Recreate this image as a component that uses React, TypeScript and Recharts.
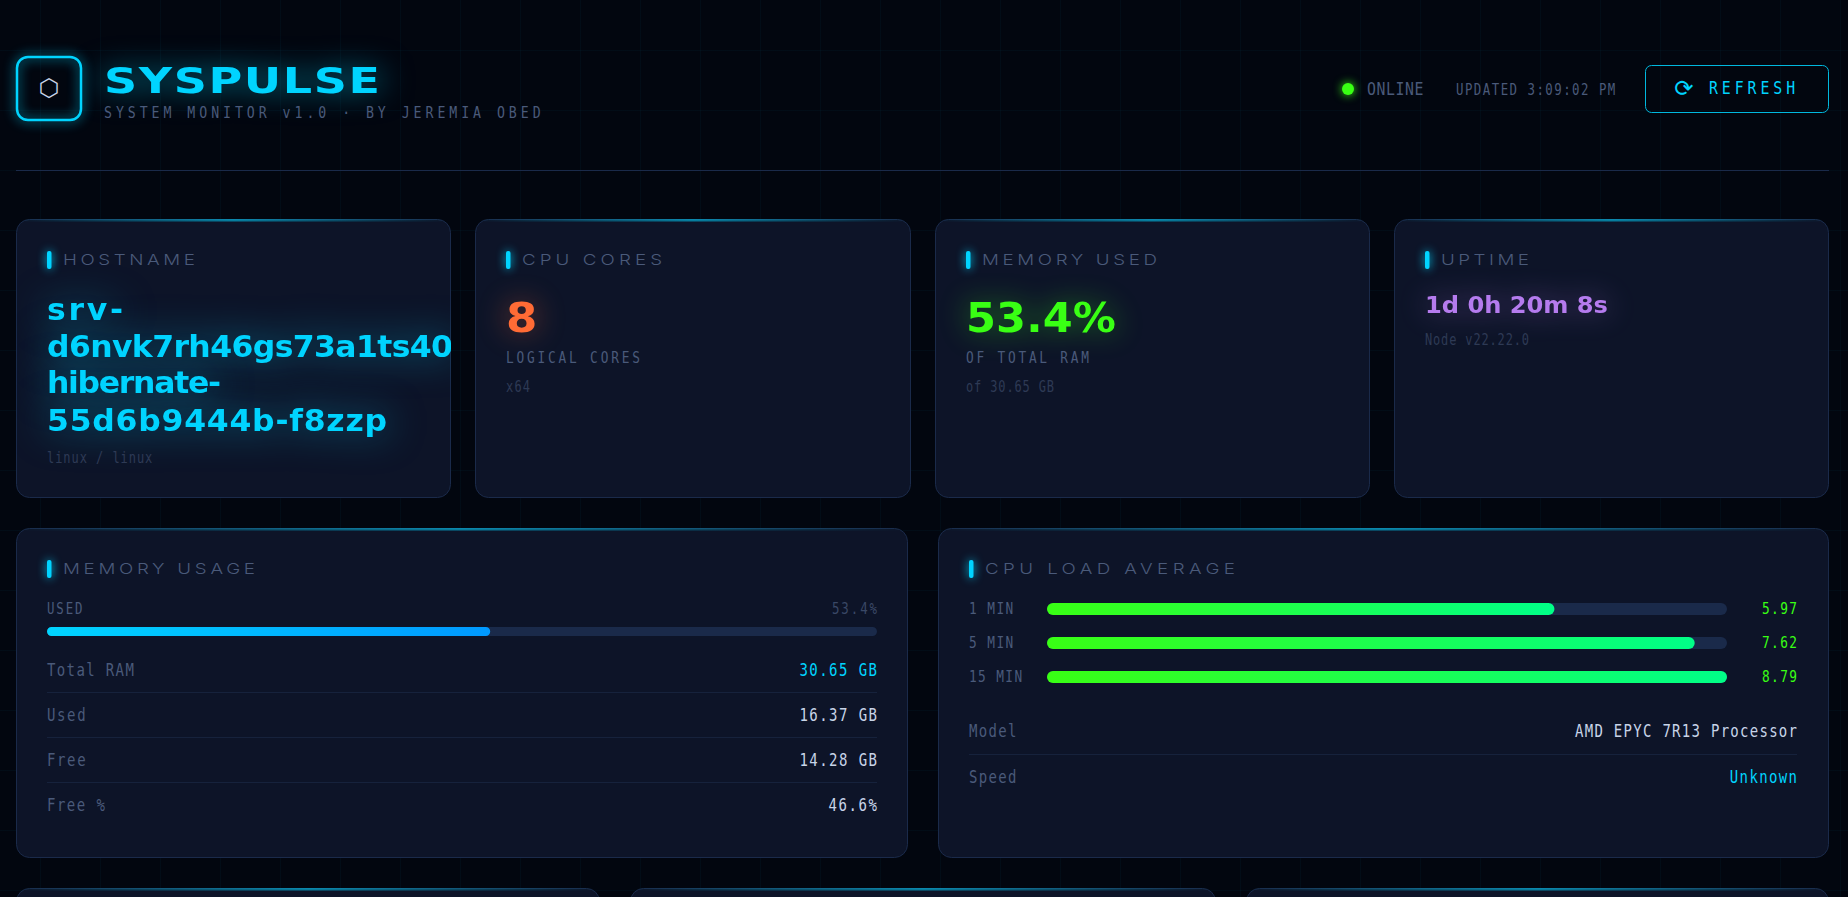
import React from "react";
import { BarChart, Bar, XAxis, YAxis, LabelList } from "recharts";

const hostLines = ["srv-", "d6nvk7rh46gs73a1ts40", "hibernate-", "55d6b9444b-f8zzp"];
const memoryCategory = ["USED"];
const memoryUsedPct = [53.4];
const memoryRowLabels = ["Total RAM", "Used", "Free", "Free %"];
const memoryRowValues = ["30.65 GB", "16.37 GB", "14.28 GB", "46.6%"];
const loadLabels = ["1 MIN", "5 MIN", "15 MIN"];
const loadValues = [5.97, 7.62, 8.79];
const cpuCores = 8;

const memoryData = memoryCategory.map((name, i) => ({ name, used: memoryUsedPct[i] }));
const loadData = loadLabels.map((name, i) => ({
  name,
  value: loadValues[i],
  shown: Math.min(loadValues[i], cpuCores),
}));

const MONO = "'DejaVu Sans Mono', monospace";
const WIDE = "'DejaVu Sans', sans-serif";
const THIN = "Inter, sans-serif";
const CYAN = "#00d4ff";
const GREEN = "#39ff14";
const MUTED = "#4a5a7a";
const DIM = "#2e3a55";
const LIGHT = "#c8d4e8";
const TRACK = "#1a2a4a";
const LINE = "#1a2a4a";

interface TxtProps {
  x: number;
  y: number;
  w: number;
  size: number;
  fill: string;
  font?: string;
  weight?: number;
  kx?: number;
  glow?: string;
  blur?: number;
  children: string;
}

function Txt({ x, y, w, size, fill, font = MONO, weight = 400, kx = 0.8, glow, blur = 12, children }: TxtProps) {
  return (
    <text
      transform={`translate(${x} ${y}) scale(${kx} 1)`}
      fontFamily={font}
      fontSize={size}
      fontWeight={weight}
      fill={fill}
      textLength={w / kx}
      lengthAdjust="spacing"
      style={glow ? { filter: `drop-shadow(0 0 ${blur}px ${glow})` } : undefined}
    >
      {children}
    </text>
  );
}

// left aligned mono text, adv = px per character
function Mono(props: { x: number; y: number; adv: number; size: number; fill: string; children: string }) {
  const { adv, children, ...rest } = props;
  return <Txt {...rest} w={children.length * adv}>{children}</Txt>;
}

function MonoRight(props: { right: number; y: number; adv: number; size: number; fill: string; children: string }) {
  const { right, adv, children, ...rest } = props;
  const w = children.length * adv;
  return <Txt {...rest} x={right - w} w={w}>{children}</Txt>;
}

function Card({ id, x, y, w, h, children }: { id: string; x: number; y: number; w: number; h: number; children?: React.ReactNode }) {
  return (
    <g>
      <clipPath id={id}>
        <rect x={x} y={y} width={w} height={h} rx={13} />
      </clipPath>
      <rect x={x + 0.5} y={y + 0.5} width={w - 1} height={h - 1} rx={13} fill="#0d1428" stroke={LINE} />
      <g clipPath={`url(#${id})`}>
        <rect x={x} y={y} width={w} height={2.5} fill="url(#accent)" />
        {children}
      </g>
    </g>
  );
}

function SectionTitle({ barX, textX, textW, y, children }: { barX: number; textX: number; textW: number; y: number; children: string }) {
  return (
    <g>
      <rect
        x={barX}
        y={y - 14}
        width={4.5}
        height={18}
        rx={2}
        fill={CYAN}
        style={{ filter: `drop-shadow(0 0 5px ${CYAN})` }}
      />
      <Txt x={textX} y={y} w={textW} size={15} fill={MUTED} font={THIN} weight={300} kx={1.25}>
        {children}
      </Txt>
    </g>
  );
}

function LoadTick({ y, payload }: any) {
  return (
    <Mono x={0} y={y + 5} adv={8.85} size={16} fill={MUTED}>
      {payload.value}
    </Mono>
  );
}

function LoadValue({ y, height, value }: any) {
  return (
    <MonoRight right={828} y={y + height / 2 + 5} adv={8.75} size={16} fill={GREEN}>
      {Number(value).toFixed(2)}
    </MonoRight>
  );
}

export default function App() {
  return (
    <div
      style={{
        position: "absolute",
        left: 0,
        top: 0,
        width: 1848,
        height: 897,
        overflow: "hidden",
        backgroundColor: "#02060f",
        backgroundImage:
          "linear-gradient(rgba(0,212,255,0.03) 1px, transparent 1px), linear-gradient(90deg, rgba(0,212,255,0.03) 1px, transparent 1px)",
        backgroundSize: "60px 60px",
        backgroundPosition: "40px 50px",
      }}
    >
      <svg width={1848} height={897} style={{ position: "absolute", left: 0, top: 0 }}>
        <defs>
          <linearGradient id="accent" x1="0" y1="0" x2="1" y2="0">
            <stop offset="0" stopColor={CYAN} stopOpacity={0} />
            <stop offset="0.5" stopColor={CYAN} stopOpacity={0.55} />
            <stop offset="1" stopColor={CYAN} stopOpacity={0} />
          </linearGradient>
        </defs>

        {/* header */}
        <rect
          x={17}
          y={57}
          width={64}
          height={63}
          rx={11}
          fill="none"
          stroke={CYAN}
          strokeWidth={2.5}
          style={{ filter: `drop-shadow(0 0 6px ${CYAN})` }}
        />
        <text x={49} y={96} textAnchor="middle" fontFamily={WIDE} fontSize={24} fill={LIGHT}>
          ⬡
        </text>
        <Txt x={104} y={93} w={276} size={36} fill={CYAN} font={WIDE} weight={700} kx={1.28} glow="rgba(0,212,255,0.6)" blur={14}>
          SYSPULSE
        </Txt>
        <Mono x={104} y={118} adv={11.8} size={16.5} fill={MUTED}>
          SYSTEM MONITOR v1.0 · BY JEREMIA OBED
        </Mono>

        <circle cx={1348} cy={89} r={6} fill={GREEN} style={{ filter: `drop-shadow(0 0 5px ${GREEN})` }} />
        <Mono x={1367} y={95} adv={9.4} size={18.5} fill={MUTED}>
          ONLINE
        </Mono>
        <Mono x={1456} y={95} adv={8.85} size={15.5} fill={MUTED}>
          UPDATED 3:09:02 PM
        </Mono>
        <rect x={1645.5} y={65.5} width={183} height={47} rx={6} fill="none" stroke="#00b8de" />
        <text x={1684} y={96} textAnchor="middle" fontFamily={WIDE} fontSize={23} fill={CYAN}>
          ⟳
        </text>
        <Mono x={1709} y={94} adv={12.3} size={18.5} fill={CYAN}>
          REFRESH
        </Mono>
        <rect x={16} y={170} width={1813} height={1} fill={LINE} />

        {/* stat cards */}
        <Card id="host" x={16} y={219} w={435} h={279}>
          <SectionTitle barX={47} textX={63} textW={132} y={265}>
            HOSTNAME
          </SectionTitle>
          <Txt x={47} y={320} w={76} size={30} fill={CYAN} font={WIDE} weight={700} kx={1.05} glow="rgba(0,212,255,0.5)" blur={18}>
            {hostLines[0]}
          </Txt>
          <Txt x={47} y={357} w={406} size={30} fill={CYAN} font={WIDE} weight={700} kx={1.05} glow="rgba(0,212,255,0.5)" blur={18}>
            {hostLines[1]}
          </Txt>
          <Txt x={47} y={393} w={174} size={30} fill={CYAN} font={WIDE} weight={700} kx={1.05} glow="rgba(0,212,255,0.5)" blur={18}>
            {hostLines[2]}
          </Txt>
          <Txt x={47} y={431} w={340} size={30} fill={CYAN} font={WIDE} weight={700} kx={1.05} glow="rgba(0,212,255,0.5)" blur={18}>
            {hostLines[3]}
          </Txt>
          <Mono x={47} y={463} adv={8.1} size={15} fill={DIM}>
            linux / linux
          </Mono>
        </Card>

        <Card id="cores" x={475} y={219} w={436} h={279}>
          <SectionTitle barX={506} textX={522} textW={140} y={265}>
            CPU CORES
          </SectionTitle>
          <Txt x={506} y={332} w={34} size={41} fill="#ff6b35" font={WIDE} weight={700} kx={1.1} glow="rgba(255,107,53,0.45)" blur={14}>
            8
          </Txt>
          <Mono x={506} y={363} adv={10.3} size={16} fill={MUTED}>
            LOGICAL CORES
          </Mono>
          <Mono x={506} y={392} adv={8} size={15} fill={DIM}>
            x64
          </Mono>
        </Card>

        <Card id="used" x={935} y={219} w={435} h={279}>
          <SectionTitle barX={966} textX={982} textW={175} y={265}>
            MEMORY USED
          </SectionTitle>
          <Txt x={966} y={332} w={150} size={41} fill={GREEN} font={WIDE} weight={700} kx={1.05} glow="rgba(57,255,20,0.45)" blur={14}>
            53.4%
          </Txt>
          <Mono x={966} y={363} adv={10.25} size={16} fill={MUTED}>
            OF TOTAL RAM
          </Mono>
          <Mono x={966} y={392} adv={8} size={15} fill={DIM}>
            of 30.65 GB
          </Mono>
        </Card>

        <Card id="uptime" x={1394} y={219} w={435} h={279}>
          <SectionTitle barX={1425} textX={1441} textW={88} y={265}>
            UPTIME
          </SectionTitle>
          <Txt x={1425} y={313} w={183} size={23} fill="#b57bee" font={WIDE} weight={700} kx={1.05} glow="rgba(181,123,238,0.45)" blur={14}>
            1d 0h 20m 8s
          </Txt>
          <Mono x={1425} y={345} adv={8} size={15} fill={DIM}>
            Node v22.22.0
          </Mono>
        </Card>

        {/* memory usage */}
        <Card id="mem" x={16} y={528} w={892} h={330}>
          <SectionTitle barX={47} textX={63} textW={192} y={574}>
            MEMORY USAGE
          </SectionTitle>
          <Mono x={47} y={614} adv={8.9} size={15.5} fill={MUTED}>
            {memoryCategory[0]}
          </Mono>
          <MonoRight right={877} y={614} adv={9} size={15.5} fill="#3a4866">
            {`${memoryUsedPct[0]}%`}
          </MonoRight>
          {memoryRowLabels.map((label, i) => (
            <g key={label}>
              <Mono x={47} y={676 + i * 45} adv={9.65} size={17.5} fill={MUTED}>
                {label}
              </Mono>
              <MonoRight right={877} y={676 + i * 45} adv={9.7} size={17.5} fill={i === 0 ? CYAN : LIGHT}>
                {memoryRowValues[i]}
              </MonoRight>
              {i < 3 && <rect x={47} y={692 + i * 45} width={830} height={1} fill="#16223c" />}
            </g>
          ))}
        </Card>

        {/* cpu load */}
        <Card id="load" x={938} y={528} w={891} h={330}>
          <SectionTitle barX={969} textX={985} textW={250} y={574}>
            CPU LOAD AVERAGE
          </SectionTitle>
          <Mono x={969} y={737} adv={9.5} size={17.5} fill={MUTED}>
            Model
          </Mono>
          <MonoRight right={1797} y={737} adv={9.65} size={17.5} fill={LIGHT}>
            AMD EPYC 7R13 Processor
          </MonoRight>
          <rect x={969} y={754} width={828} height={1} fill="#16223c" />
          <Mono x={969} y={783} adv={9.5} size={17.5} fill={MUTED}>
            Speed
          </Mono>
          <MonoRight right={1797} y={783} adv={9.6} size={17.5} fill={CYAN}>
            Unknown
          </MonoRight>
        </Card>

        <Card id="c5" x={16} y={888} w={584} h={200} />
        <Card id="c6" x={630} y={888} w={586} h={200} />
        <Card id="c7" x={1246} y={888} w={583} h={200} />
      </svg>

      <div style={{ position: "absolute", left: 47, top: 621 }}>
        <BarChart
          width={830}
          height={21}
          data={memoryData}
          layout="vertical"
          margin={{ top: 0, right: 0, bottom: 0, left: 0 }}
        >
          <defs>
            <linearGradient id="memFill" x1="0" y1="0" x2="1" y2="0">
              <stop offset="0" stopColor="#00d4ff" />
              <stop offset="1" stopColor="#0099ff" />
            </linearGradient>
          </defs>
          <XAxis type="number" domain={[0, 100]} hide />
          <YAxis type="category" dataKey="name" hide />
          <Bar
            dataKey="used"
            barSize={9}
            radius={4.5}
            fill="url(#memFill)"
            background={{ fill: TRACK, radius: 4.5 }}
            isAnimationActive={false}
          />
        </BarChart>
      </div>

      <div style={{ position: "absolute", left: 969, top: 592 }}>
        <BarChart
          width={828}
          height={102}
          data={loadData}
          layout="vertical"
          margin={{ top: 0, right: 70, bottom: 0, left: 0 }}
        >
          <defs>
            <linearGradient id="loadFill" x1="0" y1="0" x2="1" y2="0">
              <stop offset="0" stopColor="#39ff14" />
              <stop offset="1" stopColor="#00ff88" />
            </linearGradient>
          </defs>
          <XAxis type="number" domain={[0, cpuCores]} hide />
          <YAxis
            type="category"
            dataKey="name"
            width={78}
            axisLine={false}
            tickLine={false}
            tick={<LoadTick />}
          />
          <Bar
            dataKey="shown"
            barSize={12}
            radius={6}
            fill="url(#loadFill)"
            background={{ fill: TRACK, radius: 6 }}
            isAnimationActive={false}
          >
            <LabelList dataKey="value" content={<LoadValue />} />
          </Bar>
        </BarChart>
      </div>
    </div>
  );
}
